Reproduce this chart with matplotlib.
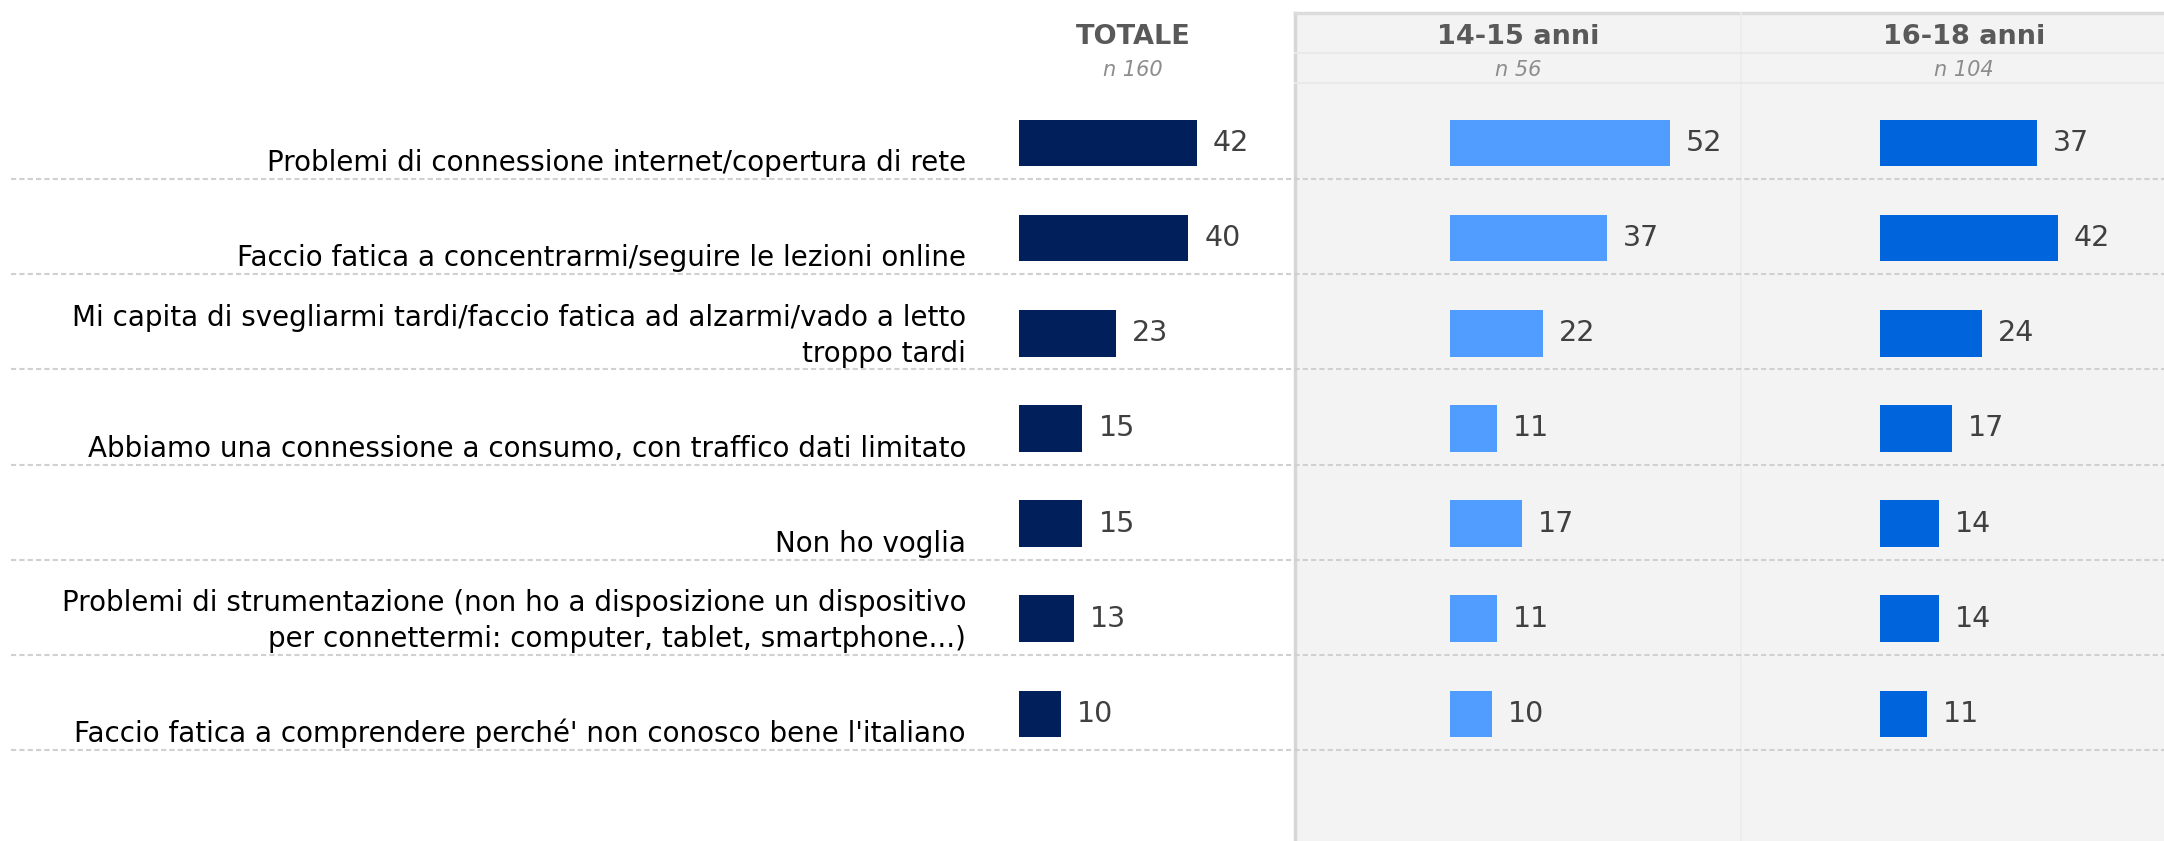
import matplotlib
matplotlib.use("Agg")
from matplotlib import pyplot as plt
from matplotlib import transforms
from matplotlib.patches import Rectangle

plt.rcParams['font.family'] = ['DejaVu Sans']

# dati
categorie = [
    "Problemi di connessione internet/copertura di rete",
    "Faccio fatica a concentrarmi/seguire le lezioni online",
    "Mi capita di svegliarmi tardi/faccio fatica ad alzarmi/vado a letto\ntroppo tardi",
    "Abbiamo una connessione a consumo, con traffico dati limitato",
    "Non ho voglia",
    "Problemi di strumentazione (non ho a disposizione un dispositivo\nper connettermi: computer, tablet, smartphone...)",
    "Faccio fatica a comprendere perché' non conosco bene l'italiano",
]
totale = [42, 40, 23, 15, 15, 13, 10]
anni_14_15 = [52, 37, 22, 11, 17, 11, 10]
anni_16_18 = [37, 42, 24, 17, 14, 14, 11]

colonne = ["TOTALE", "14-15 anni", "16-18 anni"]
campioni = ["n 160", "n 56", "n 104"]
colori = ["#001F5B", "#519CFF", "#0064DC"]
serie = [totale, anni_14_15, anni_16_18]

W, H = 2164, 841
fig = plt.figure(figsize=(W / 100, H / 100), dpi=100)

# sfondo in pixel
bg = fig.add_axes([0, 0, 1, 1])
bg.set_xlim(0, W)
bg.set_ylim(H, 0)
bg.axis("off")

top, bottom = 84, 750
step = (bottom - top) / len(categorie)

# pannello grigio
bg.add_patch(Rectangle((1295, 13), W - 1295, H - 13, facecolor="#f3f3f3",
                       edgecolor="none", zorder=0))
bg.plot([1295, 1295], [13, H], color="#d6d6d6", lw=2.5, zorder=1)
bg.plot([1295, W], [13, 13], color="#dcdcdc", lw=2.5, zorder=1)
bg.plot([1741, 1741], [13, H], color="#ececec", lw=1.2, zorder=1)
bg.plot([1295, W], [53, 53], color="#e9e9e9", lw=1.5, zorder=1)
bg.plot([1295, W], [83, 83], color="#e9e9e9", lw=1.5, zorder=1)

# linee tratteggiate tra le righe
for i in range(len(categorie)):
    y = top + step * (i + 1)
    bg.plot([11, W], [y, y], color="#d0d0d0", lw=1.5,
            linestyle=(0, (2.5, 1.5)), zorder=2)

# intestazioni
centri = [1133, 1518, 1964]
for c, nome, n in zip(centri, colonne, campioni):
    bg.text(c, 37, nome, ha="center", va="center", fontsize=19.5,
            fontweight="bold", color="#595959")
    bg.text(c, 70, n, ha="center", va="center", fontsize=15,
            fontstyle="italic", color="#8c8c8c")

# barre
ppu = 4.23  # pixel per unità
starts = [1019, 1450, 1880]
ax_w = 270
axs = []
for s, vals, col in zip(starts, serie, colori):
    ax = fig.add_axes([s / W, 1 - bottom / H, ax_w / W, (bottom - top) / H])
    ax.set_facecolor("none")
    ax.set_xlim(0, ax_w / ppu)
    ax.set_ylim(len(categorie), 0)
    ax.axis("off")
    pos = [i + 0.62 for i in range(len(vals))]
    ax.barh(pos, vals, height=0.49, color=col, zorder=3)
    for p, v in zip(pos, vals):
        ax.text(v + 3.8, p, str(v), ha="left", va="center", fontsize=20.5,
                color="#404040", clip_on=False)
    axs.append(ax)

# etichette categorie
tr = transforms.blended_transform_factory(fig.transFigure, axs[0].transData)
for i, lab in enumerate(categorie):
    axs[0].text(966 / W, i + 0.98, lab, transform=tr, ha="right", va="bottom",
                fontsize=20, color="#000000", linespacing=1.35, clip_on=False)

plt.savefig("out.png", dpi=100)
